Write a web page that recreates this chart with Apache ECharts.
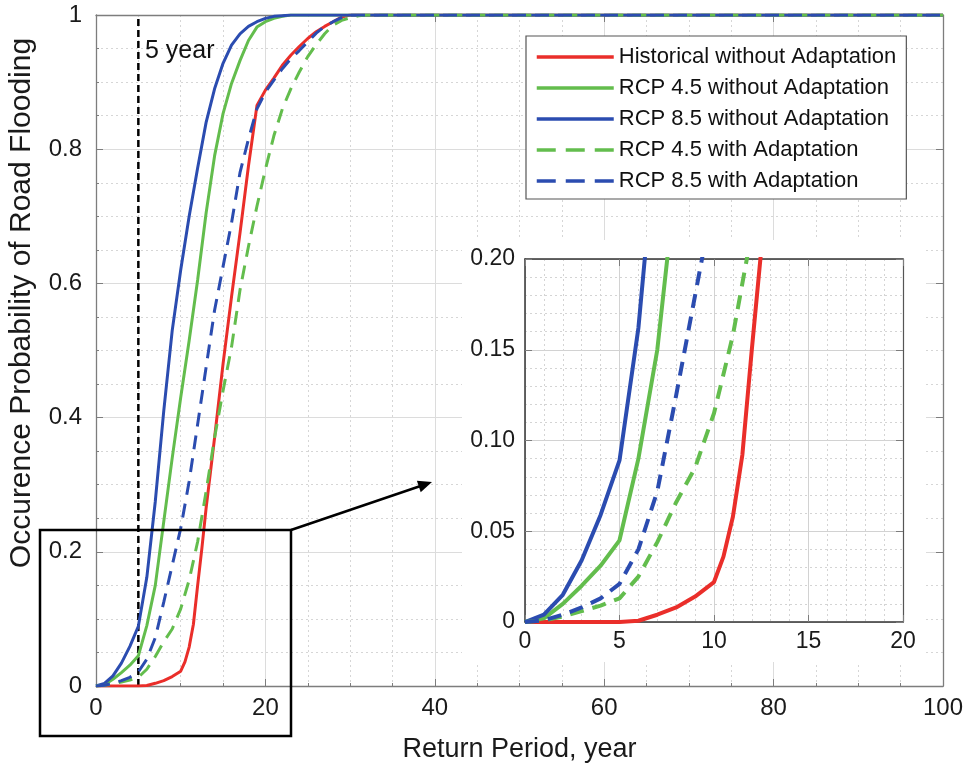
<!DOCTYPE html>
<html><head><meta charset="utf-8">
<script src="https://cdn.jsdelivr.net/npm/echarts@6/dist/echarts.min.js"></script>
<style>html,body{margin:0;padding:0;background:#fff}#c{width:969px;height:770px}</style>
</head><body><div id="c"></div>
<script>
// ---- data ----
const seriesNames = ['Historical without Adaptation','RCP 4.5 without Adaptation','RCP 8.5 without Adaptation','RCP 4.5 with Adaptation','RCP 8.5 with Adaptation'];

const histX = [0,1,2,3,4,5,6,7,8,9,10,10.5,11,11.5,12,12.5,13,14,15,16,17,18,19,20,21,22,23,24,25,26,27,28,29,30,100];
const histY = [0,0,0,0,0,0,0.0007,0.004,0.008,0.014,0.022,0.036,0.058,0.092,0.15,0.205,0.265,0.37,0.48,0.58,0.675,0.775,0.865,0.888,0.906,0.925,0.94,0.953,0.965,0.975,0.983,0.99,0.997,1,1];

const rcp45NoX = [0,1,2,3,4,5,6,7,8,9,10,11,12,13,14,15,16,17,18,19,20,21,22,23,100];
const rcp45NoY = [0,0.002,0.01,0.02,0.031,0.045,0.09,0.15,0.245,0.34,0.43,0.515,0.605,0.705,0.79,0.853,0.898,0.932,0.962,0.982,0.99,0.995,0.998,1,1];

const rcp85NoX = [0,1,2,3,4,5,6,7,8,9,10,11,12,13,14,15,16,17,18,19,20,21,22,23,100];
const rcp85NoY = [0,0.004,0.015,0.034,0.059,0.089,0.162,0.275,0.41,0.53,0.62,0.7,0.772,0.84,0.89,0.928,0.955,0.972,0.983,0.99,0.995,0.998,0.999,1,1];

const rcp45AdX = [0,1,2,3,4,5,6,7,8,9,10,11,12,13,14,15,16,17,18,19,20,21,22,23,24,25,26,27,28,29,30,31,32,100];
const rcp45AdY = [0,0.001,0.003,0.006,0.009,0.013,0.025,0.044,0.066,0.085,0.115,0.158,0.215,0.29,0.37,0.44,0.505,0.59,0.655,0.715,0.77,0.82,0.86,0.89,0.915,0.938,0.956,0.972,0.985,0.992,0.996,0.999,1,1];

const rcp85AdX = [0,1,2,3,4,5,6,7,8,9,10,11,12,13,14,15,16,17,18,19,20,21,22,23,24,25,26,27,28,29,30,100];
const rcp85AdY = [0,0.001,0.004,0.008,0.013,0.021,0.04,0.072,0.125,0.18,0.235,0.305,0.39,0.475,0.56,0.625,0.69,0.765,0.815,0.86,0.885,0.903,0.92,0.935,0.947,0.96,0.973,0.983,0.99,0.996,1,1];

const markerYearX = [5,5];
const markerYearY = [0,1];

const mainXTicks = [0,20,40,60,80,100];
const mainYTicks = [0,0.2,0.4,0.6,0.8,1];
const insetXTicks = [0,5,10,15,20];
const insetYTicks = [0,0.05,0.10,0.15,0.20];

// ---- styling ----
const FONT = "'Liberation Sans', Arial, sans-serif";
const RED = '#ea2e2a', GREEN = '#63bd4d', BLUE = '#2b4cb0';
const AX = '#7d7d7d';
const colors = [RED, GREEN, BLUE, GREEN, BLUE];
const dashed = [false,false,false,true,true];
const xs = [histX, rcp45NoX, rcp85NoX, rcp45AdX, rcp85AdX];
const ys = [histY, rcp45NoY, rcp85NoY, rcp45AdY, rcp85AdY];

function pairs(a,b){ return a.map((v,i)=>[v,b[i]]); }

function axisBase(extra){
  return Object.assign({
    type:'value',
    axisLine:{show:true, onZero:false, lineStyle:{color:AX, width:1.3}},
    axisTick:{show:true, inside:true, length:7, lineStyle:{color:AX}},
    axisLabel:{show:false},
    splitLine:{show:false},
    minorTick:{show:false},
    minorSplitLine:{show:false}
  }, extra);
}

const series = [];
for (let i=0;i<5;i++){
  series.push({type:'line', name:seriesNames[i], xAxisIndex:0, yAxisIndex:0,
    data:pairs(xs[i],ys[i]), symbol:'none', showSymbol:false, animation:false, z:3,
    lineStyle:{color:colors[i], width:3, type: dashed[i]?[14,9]:'solid'}, itemStyle:{color:colors[i]}});
}
series.push({type:'line', name:'5 year', xAxisIndex:0, yAxisIndex:0, data:pairs(markerYearX, markerYearY),
  symbol:'none', animation:false, z:2, lineStyle:{color:'#000', width:2.5, type:[7,4]}});
for (let i=0;i<5;i++){
  series.push({type:'line', name:seriesNames[i], xAxisIndex:2, yAxisIndex:2,
    data:pairs(xs[i],ys[i]), symbol:'none', showSymbol:false, animation:false, z:12, clip:true,
    lineStyle:{color:colors[i], width:4, type: dashed[i]?[14,9]:'solid'}, itemStyle:{color:colors[i]}});
}

const option = {
  backgroundColor:'#fff',
  animation:false,
  textStyle:{fontFamily:FONT},
  grid:[
    {left:96, right:26, top:15, bottom:84, containLabel:false},
    {left:525, right:66, top:259, bottom:148, containLabel:false, z:10}
  ],
  legend:{
    orient:'vertical', left:526, top:36,
    data: seriesNames.map((n,i)=>({name:n,
      itemStyle:{opacity:0},
      lineStyle: dashed[i]?{type:[19,10], width:3.5, opacity:1}:{width:3.5, opacity:1}})),
    itemWidth:77, itemHeight:2, itemGap:9,
    padding:[10,10,7,9],
    backgroundColor:'#fff', borderColor:'#555', borderWidth:1.2,
    textStyle:{fontFamily:FONT, fontSize:22, color:'#111'},
    selectedMode:false, z:20
  },
  xAxis:[
    axisBase({gridIndex:0, position:'bottom', min:0, max:100, interval:20,
      axisLabel:{show:true, fontFamily:FONT, fontSize:24, color:'#1a1a1a', margin:10,
        customValues: mainXTicks, formatter:v=>String(v)},
      splitLine:{show:true, lineStyle:{color:'#dcdcdc', width:1}},
      minorTick:{show:true, splitNumber:4, length:3, lineStyle:{color:AX}},
      minorSplitLine:{show:true, lineStyle:{color:'#d6d6d6', width:1, type:[2,3]}},
      name:'Return Period, year', nameLocation:'middle', nameGap:50,
      nameTextStyle:{fontFamily:FONT, fontSize:27, color:'#1a1a1a'}, z:1}),
    axisBase({gridIndex:0, position:'top', min:0, max:100, interval:20, z:1}),
    axisBase({gridIndex:1, position:'bottom', min:0, max:20, interval:5,
      axisLabel:{show:true, fontFamily:FONT, fontSize:23, color:'#1a1a1a', margin:8, formatter:v=>String(v)},
      splitLine:{show:true, lineStyle:{color:'#d2d2d2', width:1}},
      minorTick:{show:true, splitNumber:5, length:0},
      minorSplitLine:{show:true, lineStyle:{color:'#d4d4d4', width:1, type:[2,3]}},
      axisLine:{show:true, onZero:false, lineStyle:{color:'#333', width:1.5}}, z:11}),
    axisBase({gridIndex:1, position:'top', min:0, max:20, interval:5,
      axisLine:{show:true, onZero:false, lineStyle:{color:'#333', width:1.5}}, z:11})
  ],
  yAxis:[
    axisBase({gridIndex:0, position:'left', min:0, max:1, interval:0.2,
      axisLabel:{show:true, fontFamily:FONT, fontSize:24, color:'#1a1a1a', margin:14,
        formatter:v=> (v===0||v===1)? String(v) : v.toFixed(1)},
      splitLine:{show:true, lineStyle:{color:'#dcdcdc', width:1}},
      minorTick:{show:true, splitNumber:4, length:3, lineStyle:{color:AX}},
      minorSplitLine:{show:true, lineStyle:{color:'#d6d6d6', width:1, type:[2,3]}}, z:1}),
    axisBase({gridIndex:0, position:'right', min:0, max:1, interval:0.2, z:1}),
    axisBase({gridIndex:1, position:'left', min:0, max:0.2, interval:0.05,
      axisLabel:{show:true, fontFamily:FONT, fontSize:23, color:'#1a1a1a', margin:10,
        formatter:v=> v===0 ? '0' : v.toFixed(2)},
      splitLine:{show:true, lineStyle:{color:'#d2d2d2', width:1}},
      minorTick:{show:true, splitNumber:5, length:0},
      minorSplitLine:{show:true, lineStyle:{color:'#d4d4d4', width:1, type:[2,3]}},
      axisLine:{show:true, onZero:false, lineStyle:{color:'#333', width:1.5}}, z:11}),
    axisBase({gridIndex:1, position:'right', min:0, max:0.2, interval:0.05,
      axisLine:{show:true, onZero:false, lineStyle:{color:'#555', width:1.2}}, z:11})
  ],
  series: series,
  graphic:[
    {type:'rect', z:8, silent:true, shape:{x:462, y:240, width:464, height:422}, style:{fill:'#fff'}},
    {type:'rect', z:30, silent:true, shape:{x:40, y:530, width:251, height:206}, style:{fill:'none', stroke:'#000', lineWidth:2.5}},
    {type:'line', z:30, silent:true, shape:{x1:291, y1:530, x2:422, y2:485.5}, style:{stroke:'#000', lineWidth:2.5}},
    {type:'polygon', z:30, silent:true, shape:{points:[[432,482],[420.7,492.2],[416.9,480.8]]}, style:{fill:'#000'}},
    {type:'text', z:30, silent:true, style:{x:145, y:51, text:'5 year', font:"25px 'Liberation Sans', Arial, sans-serif", fill:'#111', textVerticalAlign:'middle'}},
    {type:'text', z:30, silent:true, x:22, y:303, rotation:Math.PI/2,
      style:{x:0, y:0, text:'Occurence Probability of Road Flooding', font:"30px 'Liberation Sans', Arial, sans-serif", fill:'#1a1a1a', textAlign:'center', textVerticalAlign:'middle'}}
  ]
};
const chart = echarts.init(document.getElementById('c'), null, {renderer:'canvas'});
chart.setOption(option);
</script>
</body></html>
